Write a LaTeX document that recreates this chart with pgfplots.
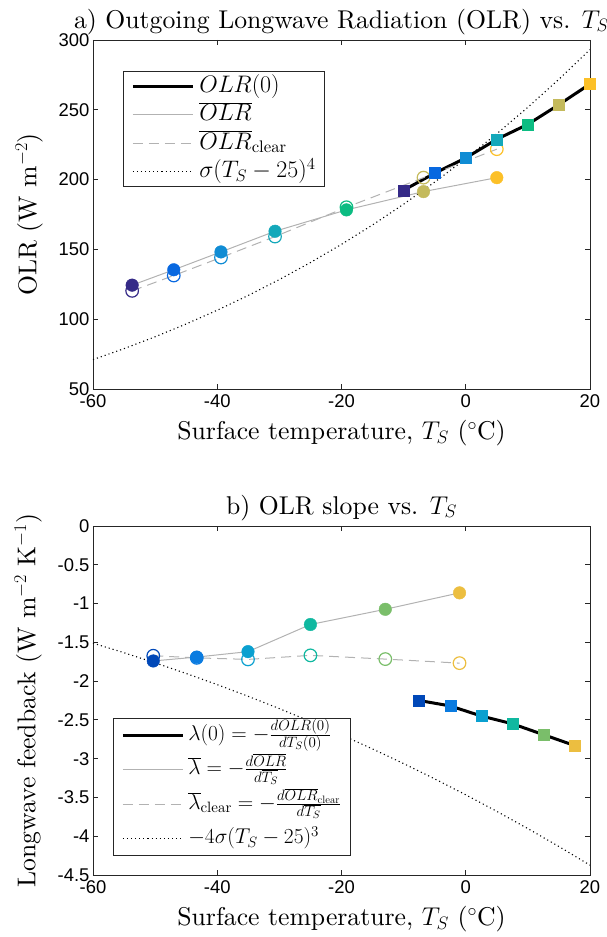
\RequirePackage{fix-cm}
\documentclass[border=0pt]{standalone}
\usepackage{fontspec}
\setmainfont{lmroman10-regular}[Extension=.otf]
\usepackage{pgfplots}
\pgfplotsset{compat=1.18}
\newfontfamily\tickfont{Liberation Sans}
\definecolor{ta}{RGB}{53,42,135}
\definecolor{tb}{RGB}{8,104,224}
\definecolor{tc}{RGB}{16,140,212}
\definecolor{td}{RGB}{20,168,186}
\definecolor{te}{RGB}{12,188,130}
\definecolor{tf}{RGB}{196,186,92}
\definecolor{tg}{RGB}{252,192,40}
\definecolor{ba}{RGB}{0,72,184}
\definecolor{bb}{RGB}{10,123,224}
\definecolor{bc}{RGB}{10,160,208}
\definecolor{bd}{RGB}{16,184,160}
\definecolor{be}{RGB}{122,190,106}
\definecolor{bf}{RGB}{236,190,64}
\definecolor{lgray}{rgb}{0.7,0.7,0.7}
\pgfplotsset{
  myaxis/.style={
    scale only axis, width=497bp, height=349bp,
    xmin=-60, xmax=20, xtick={-60,-40,...,20},
    tick align=inside, major tick length=5bp,
    axis line style={line width=0.9bp, black!85},
    every tick/.style={line width=0.9bp, black!85},
    tick label style={font=\tickfont\fontsize{18.5}{18.5}\selectfont},
    xticklabel style={yshift=-2bp},
    /pgf/number format/assume math mode=true,
    title style={font=\fontsize{25.8}{30}\selectfont, yshift=-4bp},
    label style={font=\fontsize{25.8}{30}\selectfont},
    xlabel style={yshift=-6bp},
    ylabel style={yshift=9bp},
    legend cell align=left,
    clip mode=individual,
  },
}
\begin{document}
\begin{tikzpicture}
\useasboundingbox (-93bp,-548bp) rectangle (514bp,389bp);
% ---------------- top panel
\begin{axis}[myaxis, at={(0,0)}, anchor=south west,
  ymin=50, ymax=300, ytick={50,100,...,300},
  title={a) Outgoing Longwave Radiation (OLR) vs. $T_S$},
  xlabel={Surface temperature, $T_S$ ($^\circ$C)},
  ylabel={OLR (W m$^{-2}$)},
  legend style={at={(0.06,0.911)}, anchor=north west, draw=black!85, line width=0.9bp,
    font=\fontsize{24}{24}\selectfont, inner xsep=8bp, inner ysep=1.75bp,
    nodes={inner sep=1bp, text height=18bp, text depth=6bp}, row sep=2.5bp, column sep=4bp},
  legend image code/.code={\draw[#1] (0bp,0bp) -- (60bp,0bp);},
]
\addplot[black, line width=3bp] coordinates {(-10,192.4) (-5,204.6) (0,215.5) (5,228.9) (10,239.6) (15,253.7) (20,268.5)};
\addlegendentry{$OLR(0)$}
\addplot[lgray, line width=1bp] coordinates {(-53.7,124.4) (-47.0,135.4) (-39.4,148.2) (-30.7,163.0) (-19.2,178.3) (-6.8,191.4) (5.0,201.4)};
\addlegendentry{$\overline{OLR}$}
\addplot[lgray, line width=1bp, dash pattern=on 10bp off 6bp] coordinates {(-53.7,120.3) (-47.0,131.3) (-39.4,144.2) (-30.7,159.2) (-19.2,180.2) (-6.8,201.4) (5.0,221.8)};
\addlegendentry{$\overline{OLR}_{\mathrm{clear}}$}
\addplot[black, line width=1.1bp, dash pattern=on 1.1bp off 3bp] coordinates {(-60,71.06) (-55,78.91) (-50,87.41) (-45,96.57) (-40,106.44) (-35,117.04) (-30,128.41) (-25,140.59) (-20,153.63) (-15,167.54) (-10,182.38) (-5,198.19) (0,215.00) (5,232.86) (10,251.81) (15,271.89) (20,293.15)};
\addlegendentry{$\sigma(T_S-25)^4$\hspace{26bp}}
% markers
\addplot[forget plot, scatter, only marks, point meta=explicit symbolic,
  scatter/classes={a={mark=*,ta},b={mark=*,tb},c={mark=*,tc},d={mark=*,td},e={mark=*,te},f={mark=*,tf},g={mark=*,tg}},
  mark size=6.3bp] coordinates {(-53.7,124.4)[a] (-47.0,135.4)[b] (-39.4,148.2)[c] (-30.7,163.0)[d] (-19.2,178.3)[e] (-6.8,191.4)[f] (5.0,201.4)[g]};
\addplot[forget plot, scatter, only marks, point meta=explicit symbolic,
  scatter/classes={a={mark=o,ta},b={mark=o,tb},c={mark=o,tc},d={mark=o,td},e={mark=o,te},f={mark=o,tf},g={mark=o,tg}},
  mark size=6.3bp, mark options={line width=1.2bp}] coordinates {(-53.7,120.3)[a] (-47.0,131.3)[b] (-39.4,144.2)[c] (-30.7,159.2)[d] (-19.2,180.2)[e] (-6.8,201.4)[f] (5.0,221.8)[g]};
\addplot[forget plot, scatter, only marks, point meta=explicit symbolic,
  scatter/classes={a={mark=square*,ta},b={mark=square*,tb},c={mark=square*,tc},d={mark=square*,td},e={mark=square*,te},f={mark=square*,tf},g={mark=square*,tg}},
  mark size=5.5bp] coordinates {(-10,192.4)[a] (-5,204.6)[b] (0,215.5)[c] (5,228.9)[d] (10,239.6)[e] (15,253.7)[f] (20,268.5)[g]};
\end{axis}
% ---------------- bottom panel
\begin{axis}[myaxis, at={(0,-486bp)}, anchor=south west,
  ymin=-4.5, ymax=0, ytick={-4.5,-4,...,0},
  yticklabels={-4.5,-4,-3.5,-3,-2.5,-2,-1.5,-1,-0.5,0},
  title={b) OLR slope vs. $T_S$},
  xlabel={Surface temperature, $T_S$ ($^\circ$C)},
  ylabel={Longwave feedback (W m$^{-2}$ K$^{-1}$)},
  legend style={at={(0.04,0.451)}, anchor=north west, draw=black!85, line width=0.9bp,
    font=\fontsize{21.5}{21.5}\selectfont, inner xsep=8bp, inner ysep=1bp,
    nodes={inner sep=1bp, text height=20bp, text depth=10bp}, row sep=2.6bp, column sep=3bp},
  legend image code/.code={\draw[#1] (0bp,0bp) -- (60bp,0bp);},
]
\addplot[black, line width=3bp] coordinates {(-7.5,-2.25) (-2.5,-2.32) (2.5,-2.45) (7.5,-2.55) (12.5,-2.69) (17.5,-2.83)};
\addlegendentry{$\lambda(0)=-\frac{dOLR(0)}{dT_S(0)}$}
\addplot[lgray, line width=1bp] coordinates {(-50.3,-1.74) (-43.3,-1.69) (-35.05,-1.62) (-25.0,-1.27) (-12.95,-1.074) (-1.0,-0.862)};
\addlegendentry{$\overline{\lambda}=-\frac{d\overline{OLR}}{d\overline{T_S}}$}
\addplot[lgray, line width=1bp, dash pattern=on 10bp off 6bp] coordinates {(-50.3,-1.673) (-43.3,-1.70) (-35.05,-1.72) (-25.0,-1.668) (-12.95,-1.716) (-1.0,-1.768)};
\addlegendentry{$\overline{\lambda}_{\mathrm{clear}}=-\frac{d\overline{OLR}_{\mathrm{clear}}}{d\overline{T_S}}$}
\addplot[black, line width=1.1bp, dash pattern=on 1.1bp off 3bp] coordinates {(-60,-1.5106) (-55,-1.6343) (-50,-1.7645) (-45,-1.9015) (-40,-2.0454) (-35,-2.1963) (-30,-2.3546) (-25,-2.5202) (-20,-2.6934) (-15,-2.8744) (-10,-3.0633) (-5,-3.2604) (0,-3.4657) (5,-3.6794) (10,-3.9017) (15,-4.1329) (20,-4.3730)};
\addlegendentry{$-4\sigma(T_S-25)^3$}
\addplot[forget plot, scatter, only marks, point meta=explicit symbolic,
  scatter/classes={a={mark=*,ba},b={mark=*,bb},c={mark=*,bc},d={mark=*,bd},e={mark=*,be},f={mark=*,bf}},
  mark size=6.3bp] coordinates {(-50.3,-1.74)[a] (-43.3,-1.69)[b] (-35.05,-1.62)[c] (-25.0,-1.27)[d] (-12.95,-1.074)[e] (-1.0,-0.862)[f]};
\addplot[forget plot, scatter, only marks, point meta=explicit symbolic,
  scatter/classes={a={mark=o,ba},b={mark=o,bb},c={mark=o,bc},d={mark=o,bd},e={mark=o,be},f={mark=o,bf}},
  mark size=6.3bp, mark options={line width=1.2bp}] coordinates {(-50.3,-1.673)[a] (-43.3,-1.70)[b] (-35.05,-1.72)[c] (-25.0,-1.668)[d] (-12.95,-1.716)[e] (-1.0,-1.768)[f]};
\addplot[forget plot, scatter, only marks, point meta=explicit symbolic,
  scatter/classes={a={mark=square*,ba},b={mark=square*,bb},c={mark=square*,bc},d={mark=square*,bd},e={mark=square*,be},f={mark=square*,bf}},
  mark size=5.5bp] coordinates {(-7.5,-2.25)[a] (-2.5,-2.32)[b] (2.5,-2.45)[c] (7.5,-2.55)[d] (12.5,-2.69)[e] (17.5,-2.83)[f]};
\end{axis}
\end{tikzpicture}
\end{document}
